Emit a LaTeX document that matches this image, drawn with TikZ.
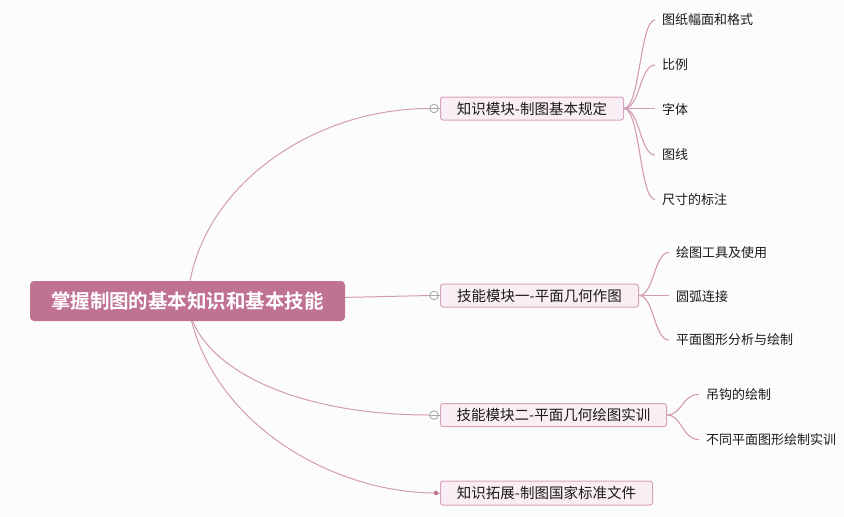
\documentclass[tikz,border=0pt]{standalone}
\usepackage{fontspec}
\setmainfont{Noto Sans CJK SC}
\newfontfamily\rootfont{Noto Sans CJK SC Bold}
\pgfdeclarelayer{bg}
\pgfdeclarelayer{edges}
\pgfsetlayers{bg,edges,main}
\definecolor{rootfill}{HTML}{C07292}
\definecolor{subfill}{HTML}{F9EEF4}
\definecolor{subdraw}{HTML}{D8A4BB}
\definecolor{linec}{HTML}{D39CB4}
\definecolor{circc}{HTML}{A9A9A9}
\definecolor{bgc}{HTML}{FCFCFC}
\definecolor{txt}{HTML}{1A1A1A}
\tikzset{
  rootbox/.style={fill=rootfill, rounded corners=4pt, minimum width=315pt, minimum height=40pt,
    inner sep=0pt, text=white, font=\rootfont\fontsize{19.5}{24}\selectfont},
  subbox/.style={fill=subfill, draw=subdraw, line width=1pt, rounded corners=2.5pt, minimum height=23pt,
    inner sep=0pt, anchor=west, text=txt, font=\fontsize{14.5}{17}\selectfont},
  leaf/.style={anchor=west, inner sep=0pt, text=txt, font=\fontsize{13}{15}\selectfont},
  collapse/.style={circle, draw=circc, fill=white, line width=0.9pt, minimum size=8.5pt, inner sep=0pt},
  dotend/.style={circle, fill=rootfill, minimum size=4.5pt, inner sep=0pt},
  conn/.style={draw=linec, line width=1pt},
  leafconn/.style={draw=linec, line width=1.1pt, shorten >=7pt},
}
\begin{document}
\begin{tikzpicture}[x=1pt,y=-1pt]
\begin{pgfonlayer}{bg}
\fill[bgc] (0,0) rectangle (844,517);
\end{pgfonlayer}
\useasboundingbox (0,0) rectangle (844,517);

% root
\node[rootbox] (root) at (187.5,301) {掌握制图的基本知识和基本技能};

% sub nodes
\node[subbox, minimum width=183pt] (k1) at (440,108.5) {知识模块-制图基本规定};
\node[subbox, minimum width=198pt] (k2) at (440,295.5) {技能模块一-平面几何作图};
\node[subbox, minimum width=226pt] (k3) at (440,415) {技能模块二-平面几何绘图实训};
\node[subbox, minimum width=212pt, minimum height=24pt] (k4) at (440,493) {知识拓展-制图国家标准文件};

% collapse markers
\node[collapse] (c1) at (434,108.5) {};
\node[collapse] (c2) at (434,295.5) {};
\node[collapse] (c3) at (434,415) {};
\node[dotend] (c4) at (436,493) {};
\foreach \c in {c1,c2,c3}{\draw[circc, line width=0.9pt] (\c.west) -- (\c.east);}

% leaves
\node[leaf] (l11) at (662,20) {图纸幅面和格式};
\node[leaf] (l12) at (662,65) {比例};
\node[leaf] (l13) at (662,109.5) {字体};
\node[leaf] (l14) at (662,155) {图线};
\node[leaf] (l15) at (662,199.5) {尺寸的标注};

\node[leaf] (l21) at (676,252.5) {绘图工具及使用};
\node[leaf] (l22) at (676,296.5) {圆弧连接};
\node[leaf] (l23) at (676,340) {平面图形分析与绘制};

\node[leaf] (l31) at (706,394.5) {吊钩的绘制};
\node[leaf] (l32) at (706,439.5) {不同平面图形绘制实训};

\begin{pgfonlayer}{edges}
% root to subs
\draw[conn] (root.center) .. controls (195,190) and (310,108.5) .. (c1.west);
\draw[conn] (root.center) -- (c2.west);
\draw[conn] (root.center) .. controls (194,365) and (290,415) .. (c3.west);
\draw[conn] (root.center) .. controls (205,420) and (330,493) .. (c4.center);
\draw[conn] (c1.east) -- (k1.west);
\draw[conn] (c2.east) -- (k2.west);
\draw[conn] (c3.east) -- (k3.west);
\draw[conn] (c4.center) -- (k4.west);
% leaf connectors group 1
\foreach \l in {l11,l12,l14,l15}{
  \draw[leafconn] (k1.east) .. controls (640,108.5) and (640,0|-\l.west) .. (\l.west);
}
\draw[leafconn] (k1.east) -- (l13.west |- k1.east);
% group 2
\draw[leafconn] (k2.east) .. controls (654,295.5) and (654,252.5) .. (l21.west);
\draw[leafconn] (k2.east) -- (l22.west |- k2.east);
\draw[leafconn] (k2.east) .. controls (654,295.5) and (654,340) .. (l23.west);
% group 3
\draw[leafconn] (k3.east) .. controls (682,415) and (682,394.5) .. (l31.west);
\draw[leafconn] (k3.east) .. controls (682,415) and (682,439.5) .. (l32.west);
\end{pgfonlayer}
\end{tikzpicture}
\end{document}
